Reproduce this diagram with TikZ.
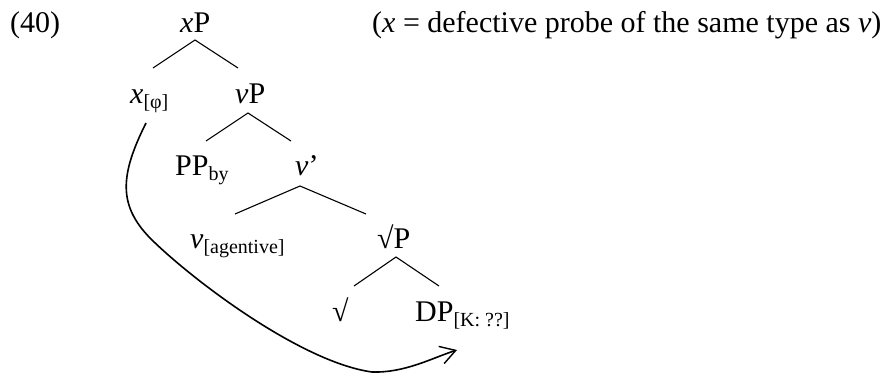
\documentclass[tikz,border=0pt]{standalone}
\usepackage{fontspec}
\setmainfont{Liberation Serif}
\usetikzlibrary{calc,arrows.meta}
\newcommand\mysub[1]{\raisebox{-5pt}{\fontsize{20}{22}\selectfont #1}}
\begin{document}
\begin{tikzpicture}[x=1pt,y=-1pt,
  lbl/.style={anchor=base west,inner sep=0pt,font=\fontsize{30}{35}\selectfont},
  branch/.style={line width=1.1pt},
  movearrow/.style={line width=1.6pt,-{Straight Barb[length=15pt,width=18pt,line width=1.4pt]}}]
\useasboundingbox (0,0) rectangle (883,375);
\node[lbl] (num) at (10,32) {(40)};
\node[lbl] (xP) at (180,32) {\textit{x}P};
\node[lbl] (note) at (372,32) {(\textit{x} = defective probe of the same type as \textit{v})};
\node[lbl] (xphi) at (130,103) {\textit{x}\mysub{[φ]}};
\node[lbl] (vP) at (235,103) {\textit{v}P};
\node[lbl] (PP) at (175,175) {PP\mysub{by}};
\node[lbl] (vbar) at (295,175) {\textit{v}’};
\node[lbl] (vag) at (190,248) {\textit{v}\mysub{[agentive]}};
\node[lbl] (rootP) at (377,248) {√P};
\node[lbl] (root) at (332,321) {√};
\node[lbl] (DP) at (415,321) {DP\mysub{[K: ??]}};
% branches
\draw[branch] ($(xphi.base west)+(23,-35)$) -- ($(xP.base west)+(15,8)$) -- ($(vP.base west)+(3,-35)$);
\draw[branch] ($(PP.base west)+(31,-34)$) -- ($(vP.base west)+(13,10)$) -- ($(vbar.base west)+(-4,-34)$);
\draw[branch] ($(vag.base west)+(45,-34)$) -- ($(vbar.base west)+(5,11)$) -- ($(rootP.base west)+(-11,-34)$);
\draw[branch] ($(root.base west)+(22,-35)$) -- ($(rootP.base west)+(19,9)$) -- ($(DP.base west)+(24,-35)$);
% movement arrow
\draw[movearrow] ($(xphi.base west)+(16,20)$) .. controls (120,175) and (118,205) .. (150,238)
  .. controls (190,278) and (300,362) .. (372,372)
  .. controls (405,373) and (432,358) .. ($(DP.base west)+(42,29)$);
\end{tikzpicture}
\end{document}
